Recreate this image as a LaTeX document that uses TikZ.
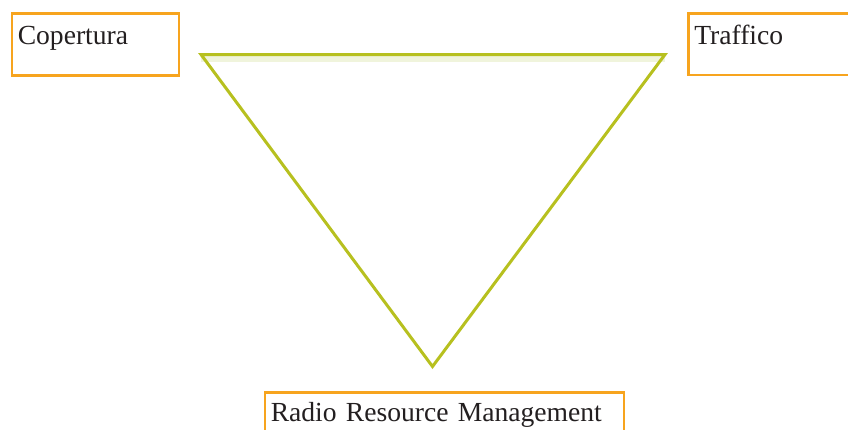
\documentclass[tikz,border=0pt]{standalone}
\usepackage{fontspec}
\setmainfont{Liberation Serif}
\definecolor{boxorange}{HTML}{F7A41E}
\definecolor{triline}{HTML}{B7C01F}
\definecolor{bandgreen}{HTML}{F0F4DC}
\definecolor{boxtext}{HTML}{231F20}
\tikzset{
  box/.style={draw=boxorange, line width=2.5pt, anchor=north west,
    inner xsep=6pt, inner ysep=0pt, align=left, text=boxtext,
    font=\fontsize{27.6}{34}\selectfont},
  tri/.style={draw=triline, line width=3pt, line join=miter}
}
\begin{document}
\begin{tikzpicture}[x=1pt,y=-1pt]
\useasboundingbox (0,0) rectangle (848,429);
\clip (0,0) rectangle (848,429);
\path
(10.5,12) node[box, text width=155pt, text height=31pt, text depth=31pt] (cop) {Copertura}
(687,12) node[box, text width=170pt, text height=31pt, text depth=30.5pt] (traf) {Traffico}
(263.5,391) node[box, text width=347pt, text height=29pt, text depth=40pt] (rrm) {Radio Resource Management};
%triangle corners
\path
(201,54.5) coordinate (cl)
(665,54.5) coordinate (cr)
(432.5,366.5) coordinate (cb);
\fill[bandgreen] (cl) rectangle ([yshift=-7pt]cr);
\draw[tri] (cl) -- (cr) -- (cb) -- cycle;
\end{tikzpicture}
\end{document}
